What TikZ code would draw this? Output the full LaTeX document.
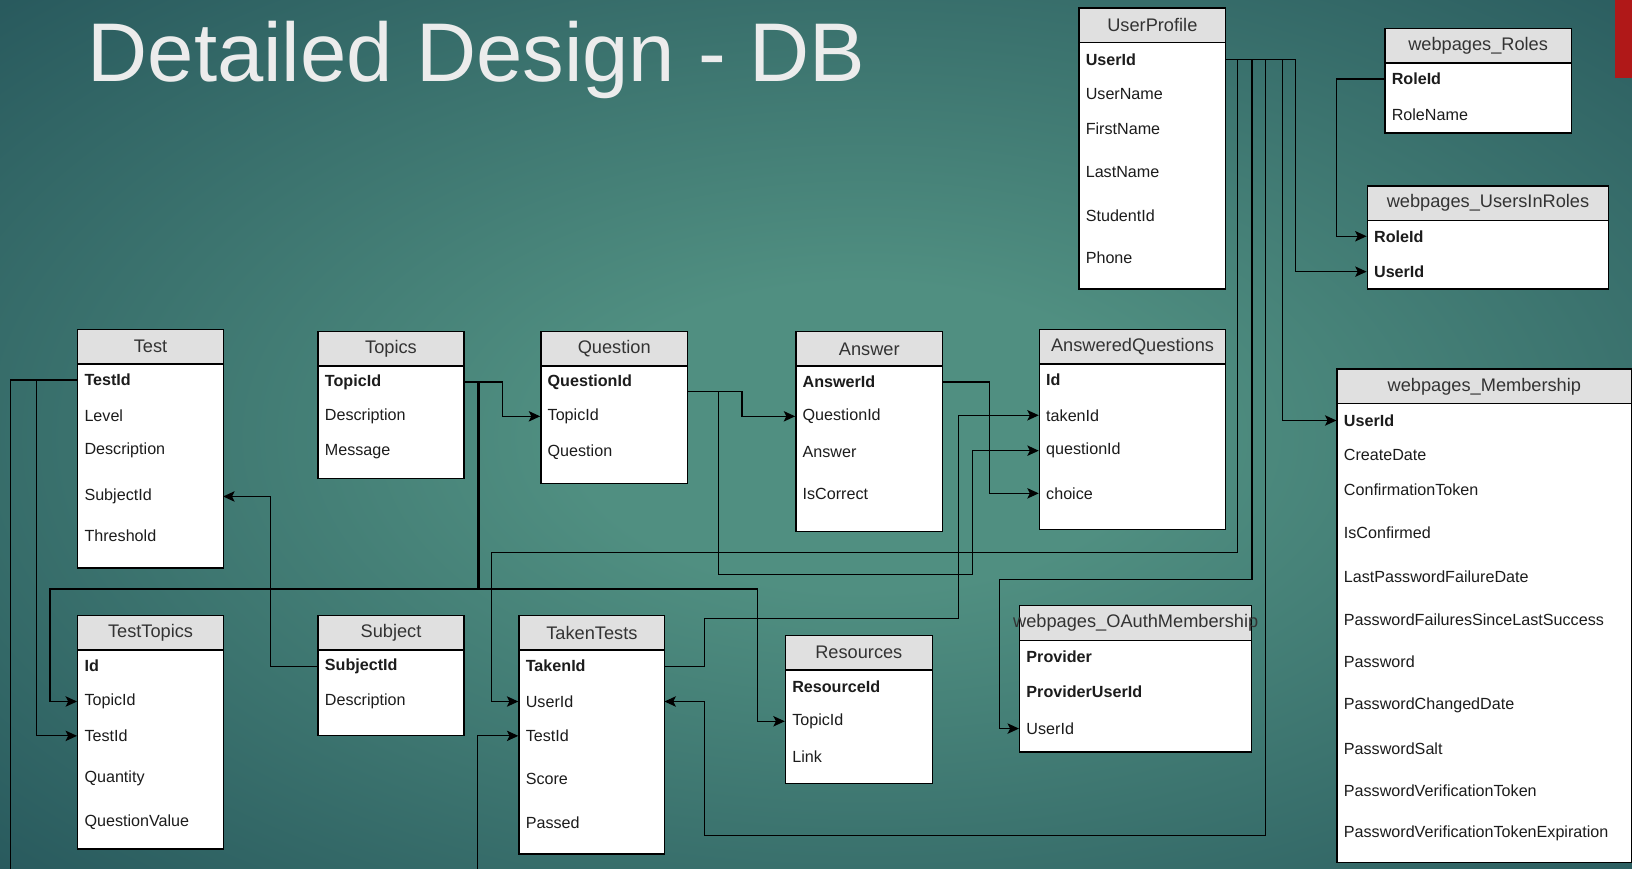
\documentclass[tikz,border=0pt]{standalone}
\usepackage{fontspec}
\setmainfont{Liberation Sans}
\usetikzlibrary{arrows.meta}

\definecolor{bgin}{RGB}{80,143,129}
\definecolor{bgout}{RGB}{20,62,75}
\definecolor{headgray}{RGB}{224,224,224}
\definecolor{titlegray}{RGB}{236,236,236}
\definecolor{rowgray}{RGB}{28,28,28}
\definecolor{slidered}{RGB}{176,24,24}

\pgfdeclareradialshading{slidebg}{\pgfpoint{0bp}{0bp}}{color(0bp)=(bgin); color(8bp)=(bgin); color(46bp)=(bgout); color(75bp)=(bgout)}

\tikzset{
	tblhead/.style={draw=black, line width=1.3pt, fill=headgray, anchor=north west,
		minimum height=33pt, inner sep=0pt, text=black!80, font=\fontsize{17.5}{20}\selectfont},
	tblbody/.style={draw=black, line width=1.3pt, fill=white, anchor=north west, inner sep=0pt},
	tblrow/.style={anchor=west, inner xsep=7pt, inner ysep=0pt, text width=#1, align=left,
		text=rowgray, font=\fontsize{15.5}{18}\selectfont},
	tblkey/.style={tblrow=#1, font=\fontsize{15.5}{18}\selectfont\bfseries},
	fk/.style={line width=1.2pt, -{Stealth[length=11pt, width=10pt, inset=2.5pt]}}
}

\begin{document}
\begin{tikzpicture}[x=1pt, y=-1pt]
	\useasboundingbox (0, 0) rectangle (1568, 834);
	\clip (0, 0) rectangle (1568, 834);

	\shade [shading=slidebg] (-40, -40) rectangle (1700, 880);

	\fill [slidered] (1552, 0) rectangle (1568, 75);

	\node [anchor=base west, inner sep=0pt, text=titlegray, font=\fontsize{80}{90}\selectfont]
		(title) at (84, 78) {Detailed Design - DB};

	\node [tblhead, minimum width=141pt] (up) at (1036, 7) {UserProfile};
	\node [tblbody, minimum width=141pt, minimum height=237pt] (up-body) at (1036, 40) {};
	\node [tblkey=127pt] (up-userid) at (1036, 57) {UserId};
	\foreach \y/\nm/\txt in {90/uname/UserName, 124/fname/FirstName, 165/lname/LastName, 207/sid/StudentId, 248/phone/Phone}
		\node [tblrow=127pt] (up-\nm) at (1036, \y) {\txt};

	\node [tblhead, minimum width=179pt] (rl) at (1330, 27) {webpages\_Roles};
	\node [tblbody, minimum width=179pt, minimum height=67pt] (rl-body) at (1330, 60) {};
	\node [tblkey=165pt] (rl-roleid) at (1330, 76) {RoleId};
	\node [tblrow=165pt] (rl-rolename) at (1330, 110) {RoleName};

	\node [tblhead, minimum width=232pt] (uir) at (1313, 178) {webpages\_UsersInRoles};
	\node [tblbody, minimum width=232pt, minimum height=66pt] (uir-body) at (1313, 211) {};
	\node [tblkey=218pt] (uir-roleid) at (1313, 227) {RoleId};
	\node [tblkey=218pt] (uir-userid) at (1313, 261) {UserId};

	\node [tblhead, minimum width=140pt] (ts) at (74, 316) {Test};
	\node [tblbody, minimum width=140pt, minimum height=196pt] (ts-body) at (74, 349) {};
	\node [tblkey=126pt] (ts-testid) at (74, 365) {TestId};
	\foreach \y/\nm/\txt in {399/level/Level, 433/descr/Description, 477/subjectid/SubjectId, 515/threshold/Threshold}
		\node [tblrow=126pt] (ts-\nm) at (74, \y) {\txt};

	\node [tblhead, minimum width=140pt] (tp) at (305, 318) {Topics};
	\node [tblbody, minimum width=140pt, minimum height=108pt] (tp-body) at (305, 351) {};
	\node [tblkey=126pt] (tp-topicid) at (305, 367) {TopicId};
	\foreach \y/\nm/\txt in {400/descr/Description, 434/msg/Message}
		\node [tblrow=126pt] (tp-\nm) at (305, \y) {\txt};

	\node [tblhead, minimum width=141pt] (qs) at (519, 318) {Question};
	\node [tblbody, minimum width=141pt, minimum height=113pt] (qs-body) at (519, 351) {};
	\node [tblkey=127pt] (qs-qid) at (519, 367) {QuestionId};
	\foreach \y/\nm/\txt in {400/topicid/TopicId, 434/question/Question}
		\node [tblrow=127pt] (qs-\nm) at (519, \y) {\txt};

	\node [tblhead, minimum width=141pt] (an) at (764, 318) {Answer};
	\node [tblbody, minimum width=141pt, minimum height=159pt] (an-body) at (764, 351) {};
	\node [tblkey=127pt] (an-answerid) at (764, 367) {AnswerId};
	\foreach \y/\nm/\txt in {400/qid/QuestionId, 434/answer/Answer, 475/correct/IsCorrect}
		\node [tblrow=127pt] (an-\nm) at (764, \y) {\txt};

	\node [tblhead, minimum width=179pt] (aq) at (998, 316) {AnsweredQuestions};
	\node [tblbody, minimum width=179pt, minimum height=159pt] (aq-body) at (998, 349) {};
	\node [tblkey=165pt] (aq-id) at (998, 365) {Id};
	\foreach \y/\nm/\txt in {399/takenid/takenId, 433/questionid/questionId, 474/choice/choice}
		\node [tblrow=165pt] (aq-\nm) at (998, \y) {\txt};

	\node [tblhead, minimum width=283pt] (ms) at (1284, 354) {webpages\_Membership};
	\node [tblbody, minimum width=283pt, minimum height=441pt] (ms-body) at (1284, 387) {};
	\node [tblkey=269pt] (ms-userid) at (1284, 404) {UserId};
	\foreach \y/\nm/\txt in {437/create/CreateDate, 471/conftoken/ConfirmationToken, 512/confirmed/IsConfirmed,
			554/lastfail/LastPasswordFailureDate, 595/failures/PasswordFailuresSinceLastSuccess,
			636/pwd/Password, 678/changed/PasswordChangedDate, 719/salt/PasswordSalt,
			760/vertoken/PasswordVerificationToken, 801/verexp/PasswordVerificationTokenExpiration}
		\node [tblrow=269pt] (ms-\nm) at (1284, \y) {\txt};

	\node [tblhead, minimum width=140pt] (tt) at (74, 591) {TestTopics};
	\node [tblbody, minimum width=140pt, minimum height=191pt] (tt-body) at (74, 624) {};
	\node [tblkey=126pt] (tt-id) at (74, 640) {Id};
	\foreach \y/\nm/\txt in {674/topicid/TopicId, 707/testid/TestId, 748/qty/Quantity, 790/qvalue/QuestionValue}
		\node [tblrow=126pt] (tt-\nm) at (74, \y) {\txt};

	\node [tblhead, minimum width=140pt] (sb) at (305, 591) {Subject};
	\node [tblbody, minimum width=140pt, minimum height=82pt] (sb-body) at (305, 624) {};
	\node [tblkey=126pt] (sb-subjectid) at (305, 640) {SubjectId};
	\node [tblrow=126pt] (sb-descr) at (305, 674) {Description};

	\node [tblhead, minimum width=140pt] (tk) at (498, 591) {TakenTests};
	\node [tblbody, minimum width=140pt, minimum height=196pt] (tk-body) at (498, 624) {};
	\node [tblkey=126pt] (tk-takenid) at (498, 640) {TakenId};
	\foreach \y/\nm/\txt in {674/userid/UserId, 707/testid/TestId, 748/score/Score, 790/passed/Passed}
		\node [tblrow=126pt] (tk-\nm) at (498, \y) {\txt};

	\node [tblhead, minimum width=141pt] (rs) at (754, 610) {Resources};
	\node [tblbody, minimum width=141pt, minimum height=109pt] (rs-body) at (754, 643) {};
	\node [tblkey=127pt] (rs-resid) at (754, 660) {ResourceId};
	\foreach \y/\nm/\txt in {693/topicid/TopicId, 727/link/Link}
		\node [tblrow=127pt] (rs-\nm) at (754, \y) {\txt};

	\node [tblhead, minimum width=223pt, minimum height=34pt] (oa) at (979, 581) {\makebox[0pt]{webpages\_OAuthMembership}};
	\node [tblbody, minimum width=223pt, minimum height=107pt] (oa-body) at (979, 615) {};
	\node [tblkey=209pt] (oa-provider) at (979, 631) {Provider};
	\node [tblkey=209pt] (oa-provuser) at (979, 665) {ProviderUserId};
	\node [tblrow=209pt] (oa-userid) at (979, 700) {UserId};

	\draw [fk]
		(up-userid.east) -| (1245, 261) -- (uir-userid.west);

	\draw [fk]
		(up-userid.east) -| (1232, 404) -- (ms-userid.west);

	\draw [fk]
		(up-userid.east) -| (1216, 803) -| (677, 674) -- (tk-userid.east);

	\draw [fk]
		(up-userid.east) -| (1203, 557) -| (960, 700) -- (oa-userid.west);

	\draw [fk]
		(up-userid.east) -| (1189, 531) -| (472, 674) -- (tk-userid.west);

	\draw [fk]
		(rl-roleid.west) -| (1284, 227) -- (uir-roleid.west);

	\draw [fk]
		(ts-testid.west) -| (35, 707) -- (tt-testid.west);

	\draw [fk]
		(ts-testid.west) -| (10, 850) -| (459, 707) -- (tk-testid.west);

	\draw [fk]
		(sb-subjectid.west) -| (260, 477) -- (ts-subjectid.east);

	\draw [fk]
		(tp-topicid.east) -| (483, 400) -- (qs-topicid.west);

	\draw [fk]
		(tp-topicid.east) -| (458.8, 566) -| (48, 674) -- (tt-topicid.west);

	\draw [fk]
		(tp-topicid.east) -| (460.2, 566) -| (728, 693) -- (rs-topicid.west);

	\draw [fk]
		([yshift=-9pt]qs-qid.east) -| (713, 400) -- (an-qid.west);

	\draw [fk]
		([yshift=-9pt]qs-qid.east) -| (690, 552) -| (934, 433) -- (aq-questionid.west);

	\draw [fk]
		(an-answerid.east) -| (951, 474) -- (aq-choice.west);

	\draw [fk]
		(tk-takenid.east) -| (677, 594) -| (921, 399) -- (aq-takenid.west);
\end{tikzpicture}
\end{document}
